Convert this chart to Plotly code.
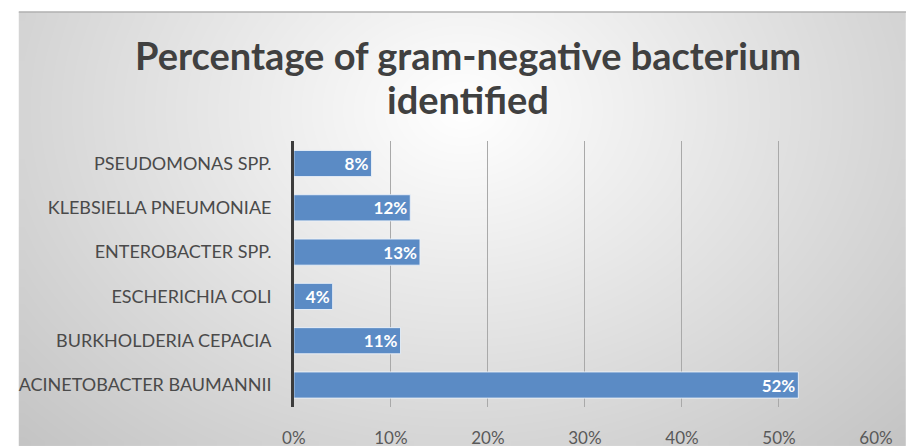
import numpy as np
import plotly.graph_objects as go

# Chart data (bottom to top as drawn)
categories = [
    "ACINETOBACTER BAUMANNII",
    "BURKHOLDERIA CEPACIA",
    "ESCHERICHIA COLI",
    "ENTEROBACTER SPP.",
    "KLEBSIELLA PNEUMONIAE",
    "PSEUDOMONAS SPP.",
]
shares = [0.52, 0.11, 0.04, 0.13, 0.12, 0.08]
tick_values = [0, 0.1, 0.2, 0.3, 0.4, 0.5, 0.6]
tick_labels = ["0%", "10%", "20%", "30%", "40%", "50%", "60%"]
title_lines = ["Percentage of gram-negative bacterium", "identified"]

W, H = 923, 448
FONT = "Lato"

# Radial grey backdrop for the chart frame (pixel grid of the page)
frame_x0, frame_y0 = 7, 12
gx = np.linspace(frame_x0, W, 93)
gy = np.linspace(frame_y0, H, 45)
cx_, cy_ = (gx[:-1] + gx[1:]) / 2, (gy[:-1] + gy[1:]) / 2
XX, YY = np.meshgrid(cx_, cy_)
rr = np.sqrt(((XX - 465) / 560) ** 2 + ((YY - 110) / 420) ** 2)
shade = np.clip(255 - 52 * rr, 190, 255)

fig = go.Figure()

fig.add_trace(go.Heatmap(
    x=gx, y=gy, z=shade, zmin=190, zmax=255, zsmooth="best",
    colorscale=[[0, "rgb(190,190,190)"], [1, "rgb(255,255,255)"]],
    showscale=False, hoverinfo="skip", xaxis="x", yaxis="y",
))

fig.add_trace(go.Bar(
    x=shares, y=categories, orientation="h",
    marker=dict(color="#5b8bc5", line=dict(color="rgba(235,242,250,0.9)", width=1)),
    texttemplate="%{x:.0%}", textposition="inside", insidetextanchor="end",
    textangle=0, constraintext="none",
    textfont=dict(family=FONT, size=17, color="white", weight="bold"),
    xaxis="x2", yaxis="y2", hoverinfo="x+y",
))

plot_left, plot_right = 291, 892
plot_top, plot_bottom = 142, 409

title_annotations = [
    dict(
        text=line, xref="paper", yref="paper",
        x=471 / W, y=1 - yc / H, xanchor="center", yanchor="middle",
        showarrow=False,
        font=dict(family=FONT, size=38, color="#404040", weight="bold"),
    )
    for line, yc in zip(title_lines, [55, 99])
]

fig.update_layout(
    width=W, height=H,
    margin=dict(l=0, r=0, t=0, b=0),
    paper_bgcolor="white", plot_bgcolor="rgba(0,0,0,0)",
    showlegend=False,
    bargap=0.41,
    xaxis=dict(domain=[0, 1], range=[0, W], visible=False, fixedrange=True),
    yaxis=dict(domain=[0, 1], range=[H, 0], visible=False, fixedrange=True),
    xaxis2=dict(
        domain=[plot_left / W, plot_right / W], range=[0, 0.6], anchor="y2",
        tickvals=tick_values, ticktext=tick_labels,
        showgrid=True, gridcolor="#a9a9a9", gridwidth=1,
        zeroline=False, showline=False,
        ticks="outside", ticklen=15, tickcolor="rgba(0,0,0,0)",
        tickfont=dict(family=FONT, size=17, color="#595959"),
    ),
    yaxis2=dict(
        domain=[(H - plot_bottom) / H, (H - plot_top) / H], anchor="x2",
        type="category", range=[-0.5, 5.5],
        showline=True, linecolor="#3c3c3c", linewidth=2.5,
        showgrid=False, zeroline=False,
        ticks="outside", ticklen=16, tickcolor="rgba(0,0,0,0)",
        tickfont=dict(family=FONT, size=18, color="#4a4a4a"),
    ),
    shapes=[dict(
        type="line", xref="paper", yref="paper",
        x0=frame_x0 / W, x1=1, y0=1 - frame_y0 / H, y1=1 - frame_y0 / H,
        line=dict(color="#b0b0b0", width=1.5),
    )],
    annotations=title_annotations,
)

fig.write_html("out.html")
